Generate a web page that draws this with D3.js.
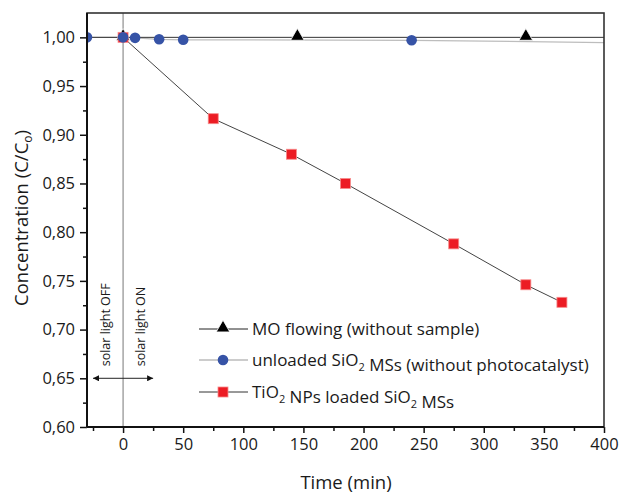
<!DOCTYPE html>
<html>
<head>
<meta charset="utf-8">
<script src="https://cdn.jsdelivr.net/npm/d3@7"></script>
<style>
  body { margin: 0; background: #fff; }
  text { font-family: 'Open Sans', sans-serif; fill: #1a1a1a; }
</style>
</head>
<body>
<svg id="chart" width="620" height="494"></svg>
<script>
// data
var moTime = [ -30, 0, 145, 335, 410 ],
  moConc = [ 1.000, 1.000, 1.000, 1.000, 1.000 ];
var moMarkers = [ 0, 145, 335 ];

var siTime = [ -30, 0, 10, 30, 50, 240, 410 ],
  siConc = [ 1.000, 1.000, 0.9995, 0.998, 0.9975, 0.997, 0.9945 ];
var siMarkers = [ -30, 0, 10, 30, 50, 240 ];

var tiTime = [ 0, 75, 140, 185, 275, 335, 365 ],
  tiConc = [ 1.000, 0.9165, 0.880, 0.850, 0.788, 0.746, 0.728 ];

var xTicks = [ 0, 50, 100, 150, 200, 250, 300, 350, 400 ],
  yTicks = [ 0.60, 0.65, 0.70, 0.75, 0.80, 0.85, 0.90, 0.95, 1.00 ];

var legendNames = [ 'MO flowing (without sample)', 'unloaded SiO2 MSs (without photocatalyst)', 'TiO2 NPs loaded SiO2 MSs' ];

var svg = d3.select( '#chart' ),
  margin = { top: 13, right: 16, bottom: 67, left: 87 },
  width = +svg.attr( 'width' ) - margin.left - margin.right,
  height = +svg.attr( 'height' ) - margin.top - margin.bottom;

var x = d3.scaleLinear().domain( [ -30, 400 ] ).range( [ margin.left, margin.left + width ] );
var y = d3.scaleLinear().domain( [ 0.60, 1.025 ] ).range( [ margin.top + height, margin.top ] );

var comma = v => d3.format( '.2f' )( v ).replace( '.', ',' );

svg.append( 'clipPath' ).attr( 'id', 'clip' )
  .append( 'rect' )
    .attr( 'x', margin.left ).attr( 'y', margin.top )
    .attr( 'width', width ).attr( 'height', height );

var plot = svg.append( 'g' ).attr( 'clip-path', 'url(#clip)' );

var line = d3.line().x( d => x( d[ 0 ] ) ).y( d => y( d[ 1 ] ) );

// solar light switch line
plot.append( 'line' )
  .attr( 'x1', x( 0 ) ).attr( 'x2', x( 0 ) )
  .attr( 'y1', y( 1.025 ) ).attr( 'y2', y( 0.60 ) )
  .style( 'stroke', '#777' ).style( 'stroke-width', 1 );

var siData = siTime.map( ( t, i ) => [ t, siConc[ i ] ] ),
  moData = moTime.map( ( t, i ) => [ t, moConc[ i ] ] ),
  tiData = tiTime.map( ( t, i ) => [ t, tiConc[ i ] ] );

plot.append( 'path' ).datum( siData )
  .attr( 'd', line ).style( 'fill', 'none' )
  .style( 'stroke', '#bdbdbd' ).style( 'stroke-width', 1.3 );

plot.append( 'path' ).datum( moData )
  .attr( 'd', line ).style( 'fill', 'none' )
  .style( 'stroke', '#333' ).style( 'stroke-width', 1 );

plot.append( 'path' ).datum( tiData )
  .attr( 'd', line ).style( 'fill', 'none' )
  .style( 'stroke', '#444' ).style( 'stroke-width', 1 );

var tri = d3.symbol().type( d3.symbolTriangle ).size( 80 );

function drawTriangle( g, cx, cy ) {
  g.append( 'path' ).attr( 'd', tri )
    .attr( 'transform', 'translate(' + cx + ',' + ( cy - 1 ) + ')' )
    .style( 'fill', '#000' ).style( 'stroke', '#fff' ).style( 'stroke-width', 0.8 );
}
function drawCircle( g, cx, cy ) {
  g.append( 'circle' ).attr( 'cx', cx ).attr( 'cy', cy ).attr( 'r', 5.3 )
    .style( 'fill', '#3653a6' );
}
function drawSquare( g, cx, cy ) {
  g.append( 'rect' ).attr( 'x', cx - 5 ).attr( 'y', cy - 5 )
    .attr( 'width', 10 ).attr( 'height', 10 )
    .style( 'fill', '#ec1c24' ).style( 'stroke', '#f78a8a' ).style( 'stroke-width', 0.8 );
}

moData.filter( d => moMarkers.includes( d[ 0 ] ) ).forEach( d => drawTriangle( plot, x( d[ 0 ] ), y( d[ 1 ] ) ) );
tiData.forEach( d => drawSquare( plot, x( d[ 0 ] ), y( d[ 1 ] ) ) );
siData.filter( d => siMarkers.includes( d[ 0 ] ) ).forEach( d => drawCircle( plot, x( d[ 0 ] ), y( d[ 1 ] ) ) );

// arrows
var defs = svg.append( 'defs' );
defs.append( 'marker' ).attr( 'id', 'arr' )
  .attr( 'viewBox', '0 0 10 10' ).attr( 'refX', 10 ).attr( 'refY', 5 )
  .attr( 'markerWidth', 10 ).attr( 'markerHeight', 6 )
  .attr( 'markerUnits', 'userSpaceOnUse' )
  .attr( 'orient', 'auto-start-reverse' )
  .append( 'path' ).attr( 'd', 'M0,0L10,5L0,10Z' ).style( 'fill', '#111' );

svg.append( 'line' )
  .attr( 'x1', x( -25 ) ).attr( 'x2', x( 25 ) )
  .attr( 'y1', y( 0.65 ) ).attr( 'y2', y( 0.65 ) )
  .style( 'stroke', '#222' ).style( 'stroke-width', 1 )
  .attr( 'marker-start', 'url(#arr)' ).attr( 'marker-end', 'url(#arr)' );

svg.append( 'text' )
  .attr( 'transform', 'translate(' + ( x( -11 ) ) + ',' + ( y( 0.65 ) - 12 ) + ') rotate(-90)' )
  .style( 'font-size', 12.5 ).text( 'solar light OFF' );
svg.append( 'text' )
  .attr( 'transform', 'translate(' + ( x( 18 ) ) + ',' + ( y( 0.65 ) - 12 ) + ') rotate(-90)' )
  .style( 'font-size', 12.5 ).text( 'solar light ON' );

// axes
svg.append( 'g' )
  .attr( 'transform', 'translate(0,' + ( margin.top + height ) + ')' )
  .call( d3.axisBottom( x ).tickValues( xTicks ).tickSize( 6 ).tickPadding( 5 ) );
svg.append( 'g' )
  .attr( 'transform', 'translate(0,' + ( margin.top + height ) + ')' )
  .call( d3.axisBottom( x ).tickValues( d3.range( -25, 400, 50 ) ).tickSize( 4 ).tickFormat( '' ) );

svg.append( 'g' )
  .attr( 'transform', 'translate(' + margin.left + ',0)' )
  .call( d3.axisLeft( y ).tickValues( yTicks ).tickSize( 7 ).tickPadding( 5 ).tickFormat( comma ) );
svg.append( 'g' )
  .attr( 'transform', 'translate(' + margin.left + ',0)' )
  .call( d3.axisLeft( y ).tickValues( d3.range( 0.625, 1.0, 0.05 ) ).tickSize( 4 ).tickFormat( '' ) );

svg.selectAll( '.domain' ).remove();
svg.selectAll( '.tick line' ).style( 'stroke', '#111' ).style( 'stroke-width', 1.5 );
svg.selectAll( '.tick text' ).style( 'font-size', 16.5 ).style( 'font-family', "'Open Sans', sans-serif" ).style( 'fill', '#1a1a1a' );

// frame
svg.append( 'rect' )
  .attr( 'x', margin.left ).attr( 'y', margin.top )
  .attr( 'width', width ).attr( 'height', height )
  .style( 'fill', 'none' ).style( 'stroke', '#333' ).style( 'stroke-width', 1.6 );
svg.append( 'line' )
  .attr( 'x1', margin.left ).attr( 'x2', margin.left )
  .attr( 'y1', margin.top ).attr( 'y2', margin.top + height )
  .style( 'stroke', '#111' ).style( 'stroke-width', 2 );
svg.append( 'line' )
  .attr( 'x1', margin.left ).attr( 'x2', margin.left + width )
  .attr( 'y1', margin.top + height ).attr( 'y2', margin.top + height )
  .style( 'stroke', '#111' ).style( 'stroke-width', 2 );

// axis titles
svg.append( 'text' )
  .attr( 'x', 346 ).attr( 'y', 489 )
  .attr( 'text-anchor', 'middle' )
  .style( 'font-size', 18.5 ).text( 'Time (min)' );

var yt = svg.append( 'text' )
  .attr( 'transform', 'translate(28,218) rotate(-90)' )
  .attr( 'text-anchor', 'middle' )
  .style( 'font-size', 18.5 );
yt.append( 'tspan' ).text( 'Concentration (C/C' );
yt.append( 'tspan' ).attr( 'dy', 4 ).style( 'font-size', 12 ).text( 'o' );
yt.append( 'tspan' ).attr( 'dy', -4 ).text( ')' );

// legend
var legend = svg.append( 'g' ).attr( 'class', 'legend' );
var rowY = [ 329, 360, 392 ],
  lineStyles = [ [ '#222', 1 ], [ '#bbb', 1.3 ], [ '#333', 1 ] ];

legendNames.forEach( ( name, i ) => {
  var yy = rowY[ i ];
  legend.append( 'line' )
    .attr( 'x1', 199 ).attr( 'x2', 248 ).attr( 'y1', yy ).attr( 'y2', yy )
    .style( 'stroke', lineStyles[ i ][ 0 ] ).style( 'stroke-width', lineStyles[ i ][ 1 ] );
  if ( i === 0 ) drawTriangle( legend, 223, yy );
  if ( i === 1 ) drawCircle( legend, 223, yy );
  if ( i === 2 ) drawSquare( legend, 223, yy );

  var t = legend.append( 'text' )
    .attr( 'x', 252 ).attr( 'y', yy + 6 )
    .style( 'font-size', 17 );
  // subscript 2 in SiO2 / TiO2
  var parts = name.split( /(O2)/ );
  parts.forEach( p => {
    if ( p === 'O2' ) {
      t.append( 'tspan' ).text( 'O' );
      t.append( 'tspan' ).attr( 'dy', 5 ).style( 'font-size', 11 ).text( '2' );
      t.append( 'tspan' ).attr( 'dy', -5 ).text( '' );
    } else if ( p.length ) {
      t.append( 'tspan' ).text( p );
    }
  } );
} );
</script>
</body>
</html>
